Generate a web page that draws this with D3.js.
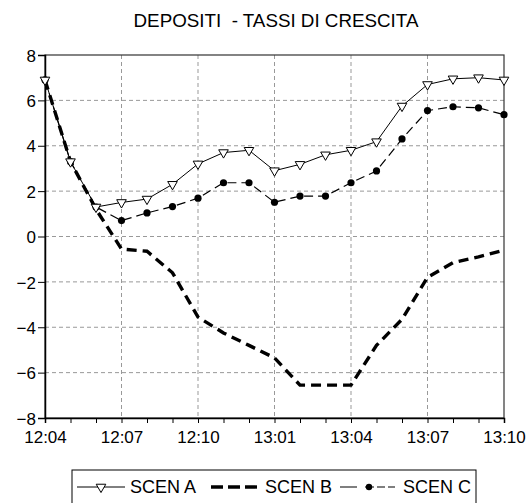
<!DOCTYPE html>
<html><head><meta charset="utf-8">
<script src="https://cdn.jsdelivr.net/npm/d3@7"></script>
<style>body{margin:0;background:#fff}svg{display:block}text{font-family:"Liberation Sans",Arial,sans-serif;fill:#000;white-space:pre}</style>
</head><body><svg id="c" width="529" height="503"></svg>
<script>
const title = "DEPOSITI  - TASSI DI CRESCITA";
const categories = ["12:04","12:05","12:06","12:07","12:08","12:09","12:10","12:11","12:12","13:01","13:02","13:03","13:04","13:05","13:06","13:07","13:08","13:09","13:10"];
const scenA = [6.9,3.3,1.3,1.5,1.65,2.3,3.2,3.7,3.8,2.9,3.18,3.6,3.8,4.18,5.75,6.7,6.95,7.0,6.9];
const scenB = [6.9,3.3,1.2,-0.55,-0.65,-1.6,-3.55,-4.25,-4.8,-5.35,-6.55,-6.55,-6.55,-4.8,-3.65,-1.8,-1.15,-0.9,-0.6];
const scenC = [6.9,3.3,1.3,0.7,1.04,1.32,1.69,2.37,2.37,1.51,1.78,1.78,2.37,2.89,4.3,5.55,5.72,5.67,5.37];
const yTicks = [-8,-6,-4,-2,0,2,4,6,8];
const seriesNames = ["SCEN A","SCEN B","SCEN C"];

const svg = d3.select("#c");
const L=45,R=504,T=55,B=418;
const x = d3.scalePoint().domain(categories).range([L,R]);
const y = d3.scaleLinear().domain([-8,8]).range([B,T]);

svg.append("text").attr("x",276).attr("y",27).attr("text-anchor","middle").style("font-size","18.8px").text(title);

// grid
const g = svg.append("g");
g.selectAll(".gy").data(yTicks.filter(d=>d>-8&&d<8)).join("line")
 .attr("x1",L).attr("x2",R).attr("y1",d=>y(d)).attr("y2",d=>y(d))
 .attr("stroke","#999").attr("stroke-dasharray","4,3").attr("stroke-width",1);
g.selectAll(".gx").data(categories.filter((d,i)=>i%3===0 && i>0 && i<categories.length-1)).join("line")
 .attr("x1",d=>x(d)).attr("x2",d=>x(d)).attr("y1",T).attr("y2",B)
 .attr("stroke","#999").attr("stroke-dasharray","4,3").attr("stroke-width",1);

svg.append("rect").attr("x",L).attr("y",T).attr("width",R-L).attr("height",B-T).attr("fill","none").attr("stroke","#333").attr("stroke-width",1.2);

const ax = svg.append("g").attr("transform",`translate(0,${B})`)
 .call(d3.axisBottom(x).tickSize(5).tickPadding(8).tickFormat((d,i)=>i%3===0?d:""));
const ay = svg.append("g").attr("transform",`translate(${L},0)`)
 .call(d3.axisLeft(y).tickValues(yTicks).tickSize(7).tickPadding(2).tickFormat(d3.format("d")));
[ax,ay].forEach(a=>{a.select(".domain").attr("stroke","#000").attr("stroke-width",1.5);
 a.selectAll(".tick line").attr("stroke","#000").attr("stroke-width",1);
 a.selectAll("text").style("font-size","17px").attr("font-family",null);});
ay.selectAll("text").attr("dy","0.36em");

const line = d3.line().x((d,i)=>x(categories[i])).y(d=>y(d));
const tri = d3.symbol().type(d3.symbolTriangle).size(40);
// B
svg.append("path").attr("d",line(scenB)).attr("fill","none").attr("stroke","#000").attr("stroke-width",3.4).attr("stroke-dasharray","10,6");
// C
svg.append("path").attr("d",line(scenC)).attr("fill","none").attr("stroke","#000").attr("stroke-width",1.2).attr("stroke-dasharray","9,5");
svg.selectAll(".mc").data(scenC).join("circle").attr("cx",(d,i)=>x(categories[i])).attr("cy",d=>y(d)).attr("r",3.6).attr("fill","#000");
// A
svg.append("path").attr("d",line(scenA)).attr("fill","none").attr("stroke","#000").attr("stroke-width",1);
svg.selectAll(".ma").data(scenA).join("path").attr("d",tri)
 .attr("transform",(d,i)=>`translate(${x(categories[i])},${y(d)}) rotate(180)`)
 .attr("fill","#fff").attr("stroke","#000").attr("stroke-width",1);

// legend
const lg = svg.append("g");
lg.append("rect").attr("x",72).attr("y",470).attr("width",404).attr("height",45).attr("fill","none").attr("stroke","#000").attr("stroke-width",1);
const ly = 487;
const items = [{sx:77,ex:125,tx:130},{sx:211,ex:257,tx:265},{sx:340,ex:395,tx:403}];
items.forEach((it,k)=>{
  const l = lg.append("line").attr("x1",it.sx).attr("x2",it.ex).attr("y1",ly).attr("y2",ly).attr("stroke","#000");
  if(k===0){l.attr("stroke-width",1);
    lg.append("path").attr("d",tri).attr("transform",`translate(${(it.sx+it.ex)/2},${ly}) rotate(180)`).attr("fill","#fff").attr("stroke","#000");}
  if(k===1){l.attr("stroke-width",3.4).attr("stroke-dasharray","12,5");}
  if(k===2){l.attr("stroke-width",1.2).attr("stroke-dasharray","17,8,9,3,8,3,7,20");
    lg.append("circle").attr("cx",369).attr("cy",ly).attr("r",3.2).attr("fill","#000");}
  lg.append("text").attr("x",it.tx).attr("y",ly).attr("dy","0.36em").style("font-size","18px").text(seriesNames[k]);
});
</script></body></html>
